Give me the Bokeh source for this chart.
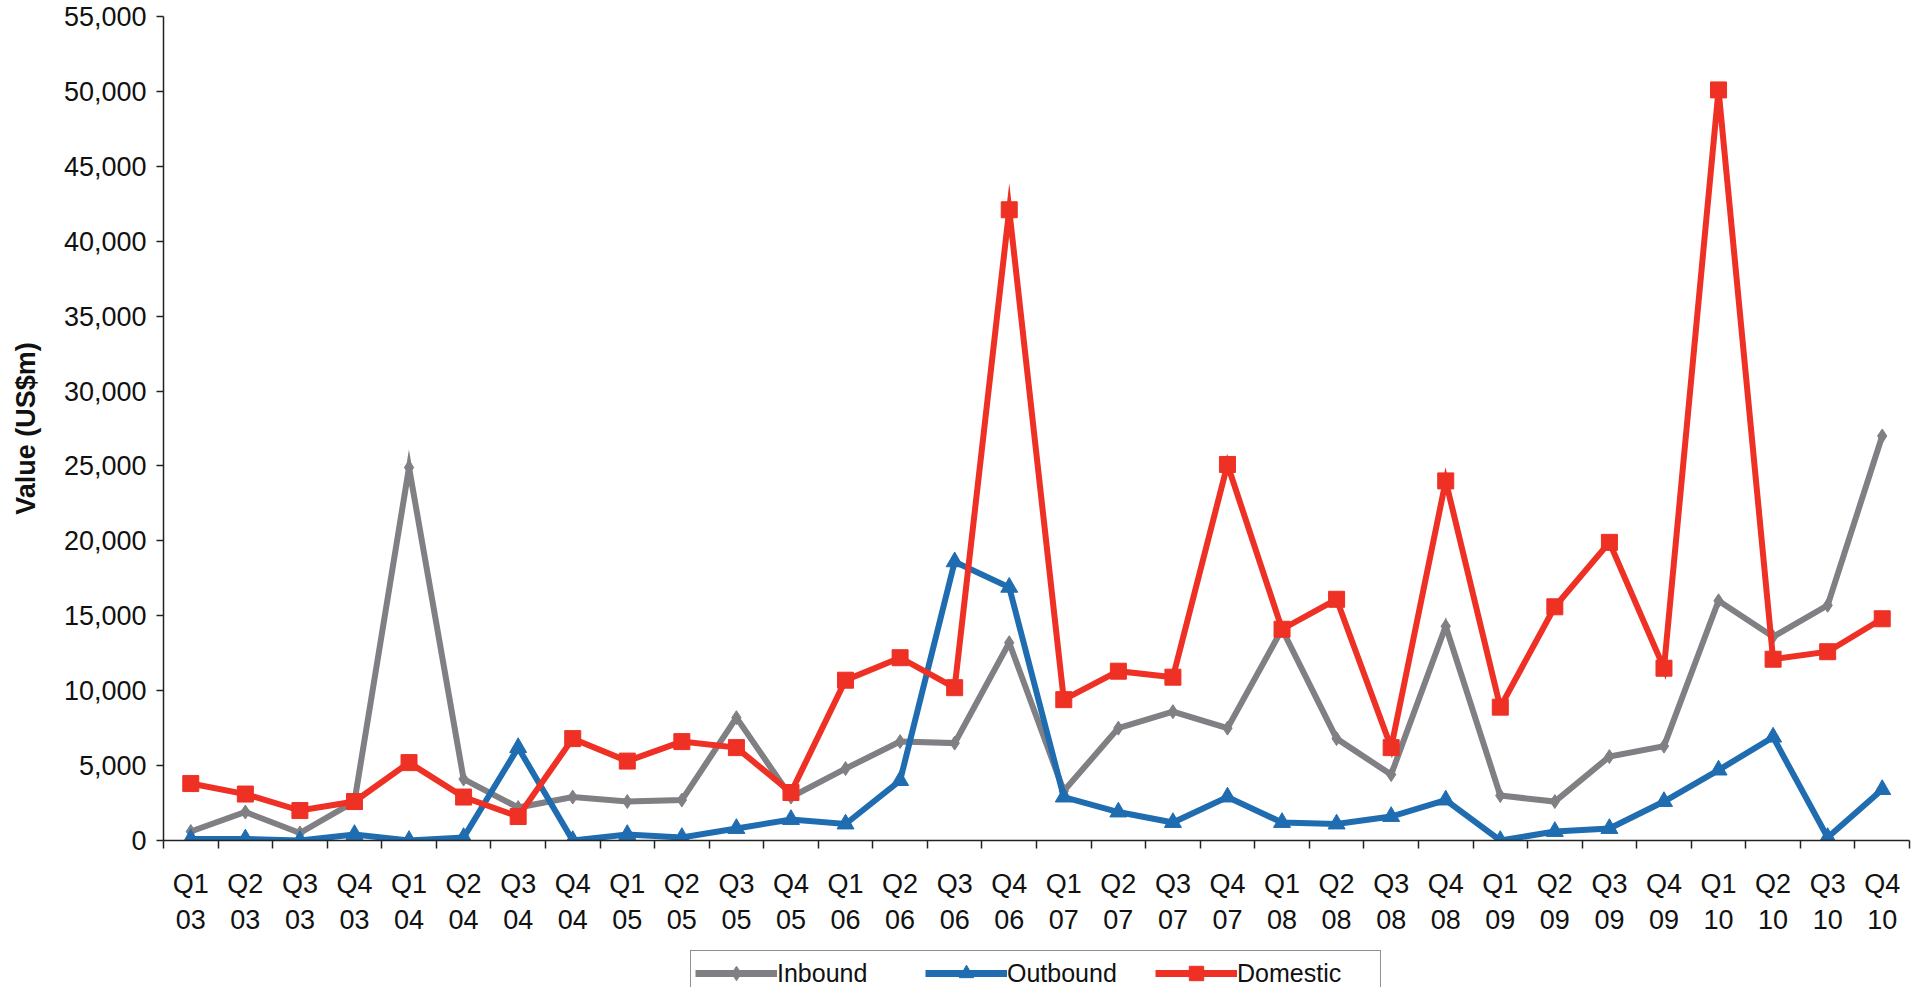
from bokeh.plotting import figure
from bokeh.layouts import column
from bokeh.models import FixedTicker, NumeralTickFormatter, Range1d, Legend, LegendItem, ColumnDataSource
from bokeh.embed import file_html
from bokeh.resources import INLINE

# ---- data ----
quarters = ["Q1", "Q2", "Q3", "Q4"] * 8
years = ["03"] * 4 + ["04"] * 4 + ["05"] * 4 + ["06"] * 4 + ["07"] * 4 + ["08"] * 4 + ["09"] * 4 + ["10"] * 4
inbound = [600, 1900, 500, 2600, 24900, 4100, 2200, 2900,
           2600, 2700, 8200, 2900, 4800, 6600, 6500, 13200,
           3300, 7500, 8600, 7500, 14100, 6800, 4400, 14300,
           3000, 2600, 5600, 6300, 16000, 13600, 15700, 27000]
outbound = [100, 100, 0, 400, 0, 200, 6200, 0,
            400, 200, 800, 1400, 1100, 4000, 18600, 16900,
            2900, 1900, 1200, 2900, 1200, 1100, 1600, 2700,
            0, 600, 800, 2600, 4700, 6900, 200, 3400]
domestic = [3800, 3100, 2000, 2600, 5200, 2900, 1600, 6800,
            5300, 6600, 6200, 3200, 10700, 12200, 10200, 42100,
            9400, 11300, 10900, 25100, 14100, 16100, 6200, 24000,
            8900, 15600, 19900, 11500, 50100, 12100, 12600, 14800]
series_names = ["Inbound", "Outbound", "Domestic"]
y_ticks = list(range(0, 55001, 5000))

idx = list(range(len(quarters)))
src = ColumnDataSource(dict(x=idx, inbound=inbound, outbound=outbound, domestic=domestic))

FONT = "Liberation Sans"
GREY = "#808084"
BLUE = "#1f6db0"
RED = "#ee3124"
STYLES = [(GREY, "diamond", 14), (BLUE, "triangle", 17), (RED, "square", 16)]

p = figure(width=1925, height=945, output_backend="svg", toolbar_location=None,
           x_range=Range1d(-0.5, len(idx) - 0.5), y_range=Range1d(0, 55000),
           min_border_left=163, min_border_right=16, min_border_top=16, min_border_bottom=105)
p.grid.visible = False
p.outline_line_color = None
p.background_fill_color = "white"
p.border_fill_color = "white"

# x axis: labels at centres, ticks at band boundaries
xa = p.xaxis[0]
xa.ticker = FixedTicker(ticks=idx, minor_ticks=[i - 0.5 for i in range(len(idx) + 1)])
xa.major_label_overrides = {i: f"{q}\n{y}" for i, q, y in zip(idx, quarters, years)}
xa.major_tick_out = 0
xa.major_tick_in = 0
xa.minor_tick_out = 8
xa.minor_tick_in = 0
xa.minor_tick_line_color = "#222222"
xa.minor_tick_line_width = 1.5
xa.axis_line_color = "#222222"
xa.axis_line_width = 1.5
xa.major_label_text_font = FONT
xa.major_label_text_font_size = "27px"
xa.major_label_text_color = "#111111"
xa.major_label_standoff = 20

ya = p.yaxis[0]
ya.ticker = FixedTicker(ticks=y_ticks)
ya.formatter = NumeralTickFormatter(format="0,0")
ya.major_tick_out = 7
ya.major_tick_in = 0
ya.minor_tick_out = 0
ya.minor_tick_in = 0
ya.major_tick_line_color = "#222222"
ya.major_tick_line_width = 1.5
ya.axis_line_color = "#222222"
ya.axis_line_width = 1.5
ya.major_label_text_font = FONT
ya.major_label_text_font_size = "27px"
ya.major_label_text_color = "#111111"
ya.major_label_standoff = 10
ya.axis_label = "Value (US$m)"
ya.axis_label_text_font = FONT
ya.axis_label_text_font_size = "27px"
ya.axis_label_text_font_style = "bold"
ya.axis_label_text_color = "#111111"
ya.axis_label_standoff = 20

for col, (c, m, s) in zip(["inbound", "outbound", "domestic"], STYLES):
    p.line("x", col, source=src, color=c, line_width=6, line_join="miter")
    p.scatter("x", col, source=src, marker=m, size=s, color=c)

# legend strip below the chart (legend samples sit outside its visible range)
q = figure(width=1925, height=42, output_backend="svg", toolbar_location=None,
           x_range=Range1d(0, 1), y_range=Range1d(0, 1),
           min_border_left=163, min_border_right=16, min_border_top=0, min_border_bottom=0)
q.axis.visible = False
q.grid.visible = False
q.outline_line_color = None
q.background_fill_color = "white"
q.border_fill_color = "white"
items = []
for name, (c, m, s) in zip(series_names, STYLES):
    lr = q.line([-5, -4], [-5, -5], color=c, line_width=7)
    sr = q.scatter([-5], [-5], marker=m, size=s, color=c)
    items.append(LegendItem(label=name, renderers=[lr, sr]))
legend = Legend(items=items, orientation="horizontal", location=(527, -9), margin=0,
                border_line_color="#222222", border_line_width=1.5,
                background_fill_color="white", background_fill_alpha=1,
                padding=4, spacing=9, glyph_width=82, glyph_height=36,
                label_standoff=0, label_width=139,
                label_text_font=FONT, label_text_font_size="25px", label_text_color="#111111")
q.add_layout(legend, "center")

layout = column(p, q, spacing=0)
open("out.html", "w").write(file_html(layout, INLINE))
